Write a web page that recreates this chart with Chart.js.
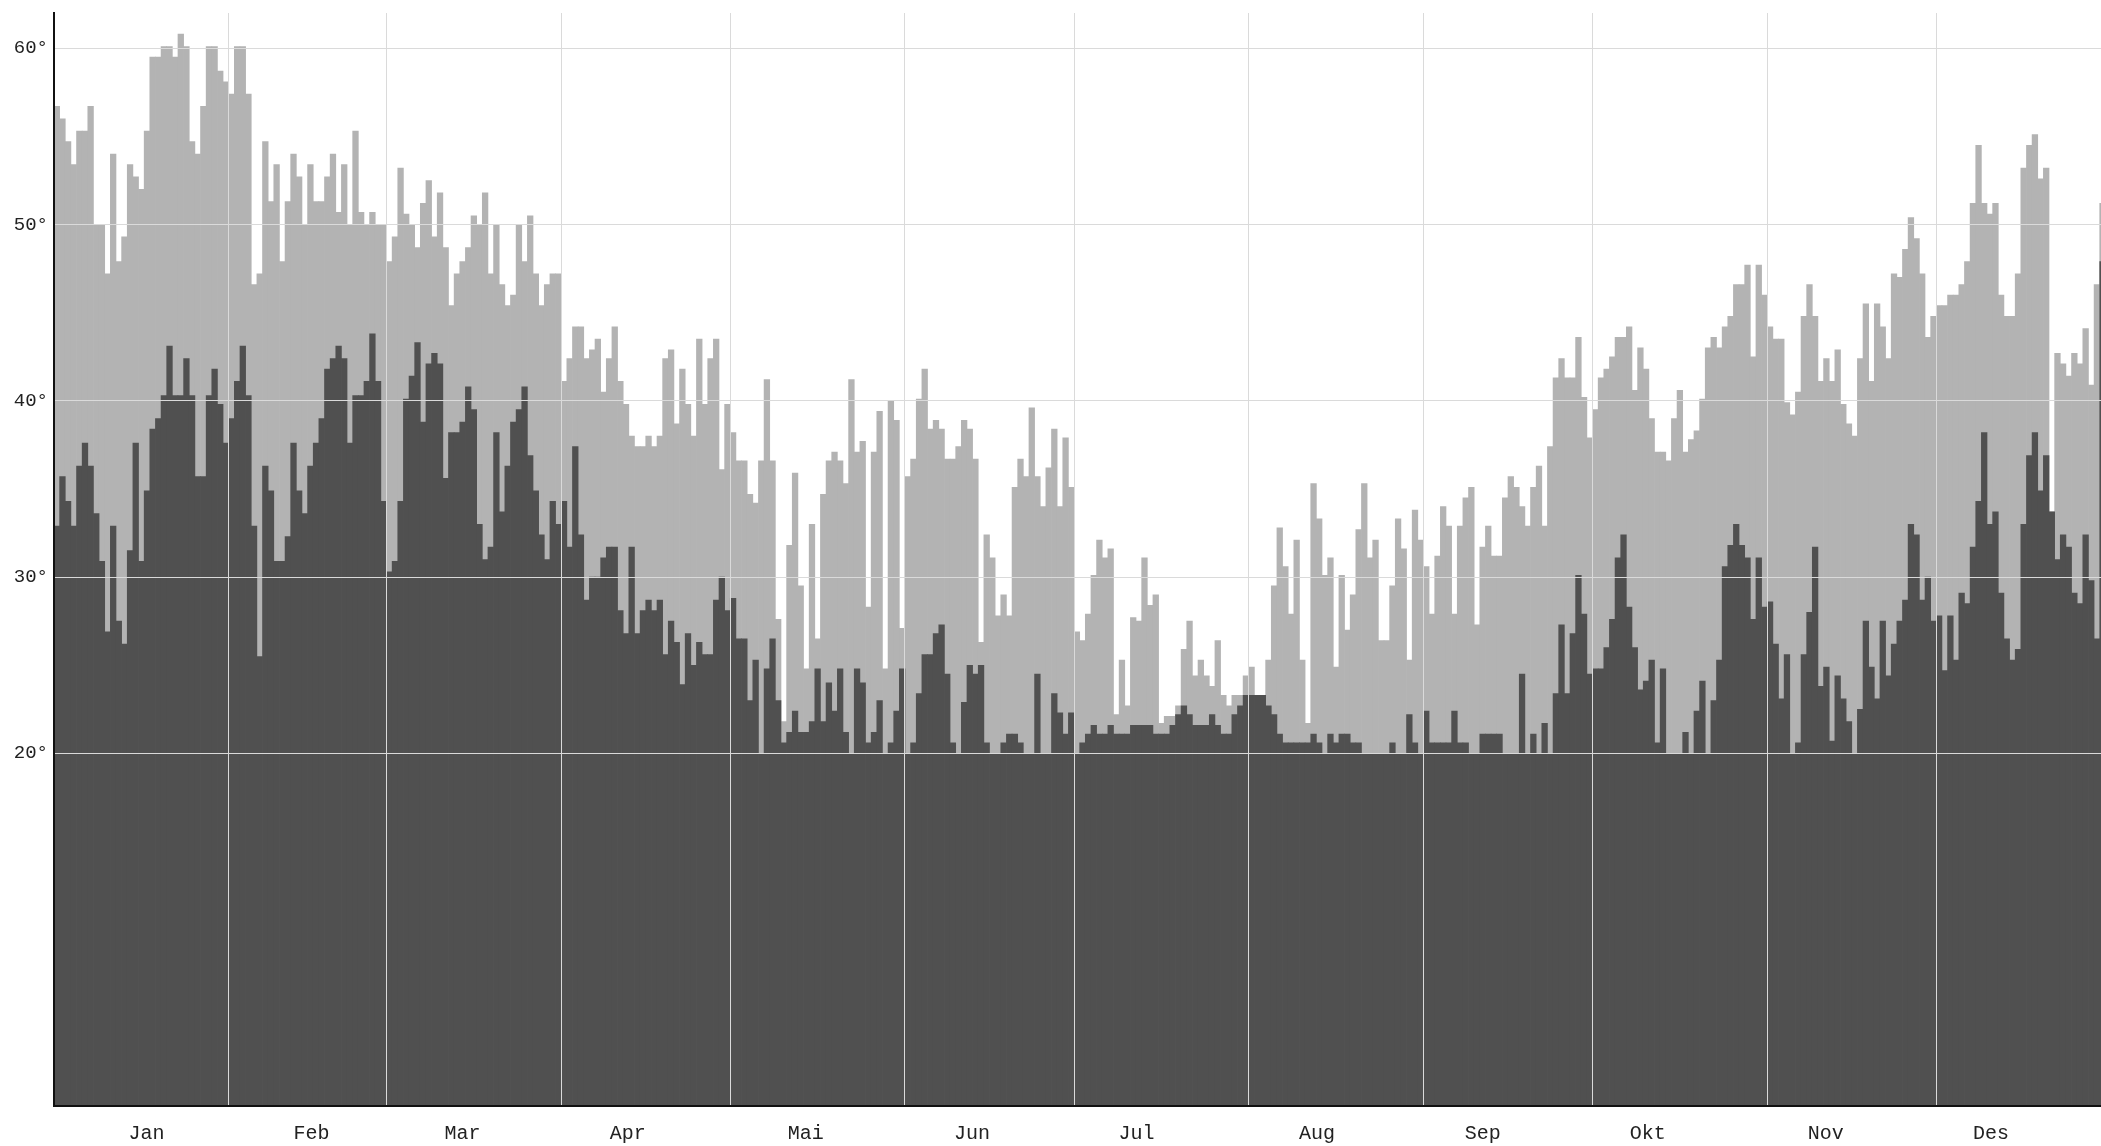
<!DOCTYPE html>
<html lang="de">
<head>
<meta charset="utf-8">
<title>Temperaturen</title>
<script src="https://cdn.jsdelivr.net/npm/chart.js@4.4.1/dist/chart.umd.min.js"></script>
<style>
  html, body { margin: 0; padding: 0; background: #fff; overflow: hidden; }
  #chart-wrap { position: absolute; left: 0; top: 0; width: 2111px; height: 1146px; }
</style>
</head>
<body>
<div id="chart-wrap"><canvas id="temp-chart"></canvas></div>
<script>
const MONTHS = ["Jan", "Feb", "Mar", "Apr", "Mai", "Jun", "Jul", "Aug", "Sep", "Okt", "Nov", "Des"];
const MONTH_STARTS = [0, 31, 59, 90, 120, 151, 181, 212, 243, 273, 304, 334];
// where the month names sit, in day units
const MONTH_LABEL_DAYS = [15.9, 45.2, 72.0, 101.3, 132.9, 162.4, 191.6, 223.6, 253.0, 282.3, 313.9, 343.2];
const Y_TICKS = [20, 30, 40, 50, 60];

// daily highs (light bars)
const HIGHS = [
    56.7, 56.0, 54.7, 53.4, 55.3, 55.3, 56.7, 50, 50, 47.2, 54.0, 47.9, 49.3, 53.4, 52.7, 52.0, 55.3, 59.5, 59.5, 60.1, 60.1, 59.5, 60.8, 60.1, 54.7, 54.0, 56.7, 60.1, 60.1, 58.7, 58.1,
    57.4, 60.1, 60.1, 57.4, 46.6, 47.2, 54.7, 51.3, 53.4, 47.9, 51.3, 54.0, 52.7, 50, 53.4, 51.3, 51.3, 52.7, 54.0, 50.7, 53.4, 50, 55.3, 50.7, 50, 50.7, 50, 50,
    47.9, 49.3, 53.2, 50.6, 50, 48.7, 51.2, 52.5, 49.3, 51.8, 48.7, 45.4, 47.2, 47.9, 48.7, 50.5, 50, 51.8, 47.2, 50, 46.6, 45.4, 46.0, 50, 47.9, 50.5, 47.2, 45.4, 46.6, 47.2, 47.2,
    41.1, 42.4, 44.2, 44.2, 42.4, 42.9, 43.5, 40.5, 42.4, 44.2, 41.1, 39.8, 38.0, 37.4, 37.4, 38.0, 37.4, 38.0, 42.4, 42.9, 38.7, 41.8, 39.8, 38.0, 43.5, 39.8, 42.4, 43.5, 36.1, 39.8,
    38.2, 36.6, 36.6, 34.7, 34.2, 36.6, 41.2, 36.6, 27.6, 21.8, 31.8, 35.9, 29.5, 24.8, 33.0, 26.5, 34.7, 36.6, 37.1, 36.6, 35.3, 41.2, 37.1, 37.7, 28.3, 37.1, 39.4, 24.8, 40.0, 38.9, 27.1,
    35.7, 36.7, 40.1, 41.8, 38.4, 38.9, 38.4, 36.7, 36.7, 37.4, 38.9, 38.4, 36.7, 26.3, 32.4, 31.1, 27.8, 29.0, 27.8, 35.1, 36.7, 35.7, 39.6, 35.7, 34.0, 36.2, 38.4, 34.0, 37.9, 35.1,
    26.9, 26.4, 27.9, 30.1, 32.1, 31.1, 31.6, 22.2, 25.3, 22.7, 27.7, 27.5, 31.1, 28.4, 29.0, 21.7, 22.1, 22.1, 22.7, 25.9, 27.5, 24.4, 25.3, 24.4, 23.8, 26.4, 23.3, 22.7, 23.3, 23.3, 24.4,
    24.9, 23.3, 23.3, 25.3, 29.5, 32.8, 30.6, 27.9, 32.1, 25.3, 21.7, 35.3, 33.3, 30.1, 31.1, 24.9, 30.1, 27.0, 29.0, 32.7, 35.3, 31.1, 32.1, 26.4, 26.4, 29.5, 33.3, 31.6, 25.3, 33.8, 32.1,
    30.6, 27.9, 31.2, 34.0, 32.9, 27.9, 32.9, 34.5, 35.1, 27.3, 31.7, 32.9, 31.2, 31.2, 34.5, 35.7, 35.1, 34.0, 32.9, 35.1, 36.3, 32.9, 37.4, 41.3, 42.4, 41.3, 41.3, 43.6, 40.2, 37.9,
    39.5, 41.3, 41.8, 42.5, 43.6, 43.6, 44.2, 40.6, 43.0, 41.8, 39.0, 37.1, 37.1, 36.6, 39.0, 40.6, 37.1, 37.8, 38.3, 40.1, 43.0, 43.6, 43.0, 44.2, 44.8, 46.6, 46.6, 47.7, 42.5, 47.7, 46.0,
    44.2, 43.5, 43.5, 39.9, 39.2, 40.5, 44.8, 46.6, 44.8, 41.1, 42.4, 41.1, 42.9, 39.8, 38.7, 38.0, 42.4, 45.5, 41.1, 45.5, 44.2, 42.4, 47.2, 47.0, 48.6, 50.4, 49.2, 47.2, 43.6, 44.8,
    45.4, 45.4, 46.0, 46.0, 46.6, 47.9, 51.2, 54.5, 51.2, 50.6, 51.2, 46.0, 44.8, 44.8, 47.2, 53.2, 54.5, 55.1, 52.6, 53.2, 33.7, 42.7, 42.1, 41.4, 42.7, 42.1, 44.1, 40.9, 46.6, 51.2, 51.0,
];

// daily lows (dark bars)
const LOWS = [
    32.9, 35.7, 34.3, 32.9, 36.3, 37.6, 36.3, 33.6, 30.9, 26.9, 32.9, 27.5, 26.2, 31.5, 37.6, 30.9, 34.9, 38.4, 39.0, 40.3, 43.1, 40.3, 40.3, 42.4, 40.3, 35.7, 35.7, 40.3, 41.8, 39.8, 37.6,
    39.0, 41.1, 43.1, 40.3, 32.9, 25.5, 36.3, 34.9, 30.9, 30.9, 32.3, 37.6, 34.9, 33.6, 36.3, 37.6, 39.0, 41.8, 42.4, 43.1, 42.4, 37.6, 40.3, 40.3, 41.1, 43.8, 41.1, 34.3,
    30.3, 30.9, 34.3, 40.1, 41.4, 43.3, 38.8, 42.1, 42.7, 42.1, 35.6, 38.2, 38.2, 38.8, 40.8, 39.5, 33.0, 31.0, 31.7, 38.2, 33.7, 36.3, 38.8, 39.5, 40.8, 36.9, 34.9, 32.4, 31.0, 34.3, 33.0,
    34.3, 31.7, 37.4, 32.4, 28.7, 30.0, 30.0, 31.1, 31.7, 31.7, 28.1, 26.8, 31.7, 26.8, 28.1, 28.7, 28.1, 28.7, 25.6, 27.5, 26.3, 23.9, 26.8, 25.0, 26.3, 25.6, 25.6, 28.7, 30.0, 28.1,
    28.8, 26.5, 26.5, 23.0, 25.3, 20, 24.8, 26.5, 23.0, 20.6, 21.2, 22.4, 21.2, 21.2, 21.8, 24.8, 21.8, 24.0, 22.4, 24.8, 21.2, 20, 24.8, 24.0, 20.6, 21.2, 23.0, 20, 20.6, 22.4, 24.8,
    20, 20.6, 23.4, 25.6, 25.6, 26.8, 27.3, 24.5, 20.6, 20, 22.9, 25.0, 24.5, 25.0, 20.6, 20, 20, 20.6, 21.1, 21.1, 20.6, 20, 20, 24.5, 20, 20, 23.4, 22.3, 21.1, 22.3,
    20, 20.6, 21.1, 21.6, 21.1, 21.1, 21.6, 21.1, 21.1, 21.1, 21.6, 21.6, 21.6, 21.6, 21.1, 21.1, 21.1, 21.6, 22.2, 22.7, 22.2, 21.6, 21.6, 21.6, 22.2, 21.6, 21.1, 21.1, 22.2, 22.7, 23.3,
    23.3, 23.3, 23.3, 22.7, 22.2, 21.1, 20.6, 20.6, 20.6, 20.6, 20.6, 21.1, 20.6, 20, 21.1, 20.6, 21.1, 21.1, 20.6, 20.6, 20, 20, 20, 20, 20, 20.6, 20, 20, 22.2, 20.6, 20,
    22.4, 20.6, 20.6, 20.6, 20.6, 22.4, 20.6, 20.6, 20, 20, 21.1, 21.1, 21.1, 21.1, 20, 20, 20, 24.5, 20, 21.1, 20, 21.7, 20, 23.4, 27.3, 23.4, 26.8, 30.1, 27.9, 24.5,
    24.8, 24.8, 26.0, 27.6, 31.1, 32.4, 28.3, 26.0, 23.6, 24.1, 25.3, 20.6, 24.8, 20, 20, 20, 21.2, 20, 22.4, 24.1, 20, 23.0, 25.3, 30.6, 31.8, 33.0, 31.8, 31.1, 27.6, 31.1, 28.3,
    28.6, 26.2, 23.1, 25.6, 20, 20.6, 25.6, 28.0, 31.7, 23.8, 24.9, 20.7, 24.4, 23.1, 21.8, 20, 22.5, 27.5, 24.9, 23.1, 27.5, 24.4, 26.2, 27.5, 28.7, 33.0, 32.4, 28.7, 30.0, 27.5,
    27.8, 24.7, 27.8, 25.3, 29.1, 28.5, 31.7, 34.3, 38.2, 33.0, 33.7, 29.1, 26.5, 25.3, 25.9, 33.0, 36.9, 38.2, 34.9, 36.9, 33.7, 31.0, 32.4, 31.7, 29.1, 28.5, 32.4, 29.8, 26.5, 47.9, 47.0,
];

const DAYS = HIGHS.map((_, i) => i);

const AXIS_FONT = { family: "'Liberation Mono', 'DejaVu Sans Mono', monospace", size: 20 };
const GRID_COLOR = "#dadada";

const chartEl = document.getElementById("temp-chart");

function degreeLabel(value) {
    return `${value}°`;
}

function barDataset(label, values, color, order) {
    return {
        label,
        data: values,
        backgroundColor: color,
        borderWidth: 0,
        barPercentage: 1,
        categoryPercentage: 1,
        grouped: false,
        order,
    };
}

new Chart(chartEl, {
    type: "bar",
    data: {
        labels: DAYS,
        datasets: [
            barDataset("Tief", LOWS, "#505050", 0),
            barDataset("Hoch", HIGHS, "#b3b3b3", 1),
        ],
    },
    options: {
        animation: false,
        responsive: true,
        maintainAspectRatio: false,
        layout: { padding: { top: 13, left: 0, right: 0, bottom: 0 } },
        plugins: {
            legend: { display: false },
            tooltip: { enabled: false },
        },
        scales: {
            x: {
                type: "linear",
                position: "bottom",
                offset: false,
                min: -0.5,
                max: 364.5,
                weight: 0,
                afterBuildTicks: (scale) => {
                    scale.ticks = MONTH_STARTS.slice(1).map((d) => ({ value: d - 0.5 }));
                },
                ticks: { display: false },
                grid: { offset: false, color: GRID_COLOR, lineWidth: 1, drawTicks: false, z: 1 },
                border: { display: true, color: "#111", width: 2, z: 1 },
            },
            months: {
                type: "linear",
                axis: "x",
                position: "bottom",
                offset: false,
                min: -0.5,
                max: 364.5,
                weight: 1,
                afterBuildTicks: (scale) => {
                    scale.ticks = MONTH_LABEL_DAYS.map((v) => ({ value: v }));
                },
                afterFit: (scale) => {
                    scale.height = 40;
                    scale.paddingLeft = 0;
                    scale.paddingRight = 0;
                },
                ticks: {
                    autoSkip: false,
                    maxRotation: 0,
                    padding: 16,
                    color: "#222",
                    font: AXIS_FONT,
                    callback: (value, index) => MONTHS[index],
                },
                grid: { display: false, drawTicks: false },
                border: { display: false },
            },
            y: {
                type: "linear",
                min: 0,
                max: 62,
                afterBuildTicks: (scale) => {
                    scale.ticks = Y_TICKS.map((v) => ({ value: v }));
                },
                afterFit: (scale) => {
                    scale.width = 54;
                    scale.paddingTop = 0;
                    scale.paddingBottom = 0;
                },
                ticks: {
                    padding: 6,
                    color: "#222",
                    font: { family: AXIS_FONT.family, size: 19 },
                    callback: degreeLabel,
                },
                grid: { color: GRID_COLOR, lineWidth: 1, drawTicks: false, z: 1 },
                border: { display: true, color: "#111", width: 2, z: 1 },
            },
        },
    },
});
</script>
</body>
</html>
